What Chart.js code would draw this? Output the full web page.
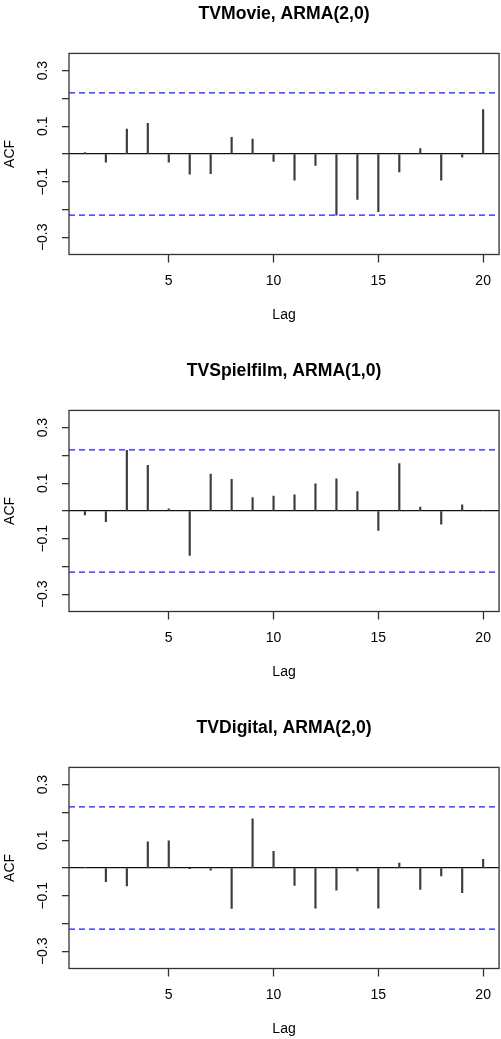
<!DOCTYPE html>
<html lang="en">
<head>
    <meta charset="UTF-8" />
    <title>ACF of residuals</title>
    <script src="https://cdn.jsdelivr.net/npm/chart.js"></script>
    <style>
        body { margin: 0; background: #fff; }
        .panel { position: absolute; left: 0; width: 501px; height: 325px; }
    </style>
</head>
<body>
    <div class="panel" style="top: 0px;"><canvas id="acf1" width="501" height="325"></canvas></div>
    <div class="panel" style="top: 357px;"><canvas id="acf2" width="501" height="325"></canvas></div>
    <div class="panel" style="top: 714px;"><canvas id="acf3" width="501" height="325"></canvas></div>

    <script>
        // lags and autocorrelations
        const lags = [1, 2, 3, 4, 5, 6, 7, 8, 9, 10, 11, 12, 13, 14, 15, 16, 17, 18, 19, 20];
        const acfTVMovie = [0.005, -0.030, 0.090, 0.110, -0.030, -0.073, -0.071, 0.060, 0.054, -0.027,
                            -0.094, -0.041, -0.220, -0.164, -0.208, -0.065, 0.019, -0.094, -0.012, 0.160];
        const acfTVSpielfilm = [-0.014, -0.039, 0.218, 0.164, 0.008, -0.160, 0.133, 0.114, 0.048, 0.054,
                                0.058, 0.098, 0.116, 0.070, -0.070, 0.171, 0.014, -0.048, 0.022, 0.002];
        const acfTVDigital = [0.001, -0.049, -0.065, 0.094, 0.098, -0.001, -0.008, -0.146, 0.177, 0.060,
                              -0.063, -0.145, -0.080, -0.011, -0.145, 0.018, -0.077, -0.029, -0.089, 0.031];
        const titles = ["TVMovie, ARMA(2,0)", "TVSpielfilm, ARMA(1,0)", "TVDigital, ARMA(2,0)"];
        const ciLevel = 0.22; // 1.96/sqrt(n)

        const xTickValues = [5, 10, 15, 20];
        const yTickValues = [-0.3, -0.2, -0.1, 0, 0.1, 0.2, 0.3];
        const yTickLabels = ["\u22120.3", "", "\u22120.1", "", "0.1", "", "0.3"];
        const xMin = 0.24, xMax = 20.76;
        const yMin = -0.362, yMax = 0.362;

        const family = "'Liberation Sans', Arial, Helvetica, sans-serif";
        const tickFont = { family: family, size: 14 };
        const boxColor = "#333";

        // R style box around the plot region
        const boxPlugin = {
            id: "box",
            afterDraw(chart) {
                const a = chart.chartArea;
                const ctx = chart.ctx;
                ctx.save();
                ctx.strokeStyle = boxColor;
                ctx.lineWidth = 1.3;
                ctx.strokeRect(a.left, a.top, a.right - a.left, a.bottom - a.top);
                ctx.restore();
            }
        };

        function makeChart(id, title, values) {
            new Chart(document.getElementById(id), {
                type: "bar",
                data: {
                    datasets: [
                        {
                            type: "bar",
                            data: lags.map((l, i) => ({ x: l, y: values[i] })),
                            backgroundColor: "#3c3c3c",
                            barThickness: 1.5,
                            order: 2
                        },
                        {
                            type: "line",
                            data: [{ x: xMin, y: ciLevel }, { x: xMax, y: ciLevel }],
                            borderColor: "#1a1aff",
                            borderWidth: 1.3,
                            borderDash: [6, 4],
                            pointRadius: 0,
                            fill: false,
                            order: 1
                        },
                        {
                            type: "line",
                            data: [{ x: xMin, y: -ciLevel }, { x: xMax, y: -ciLevel }],
                            borderColor: "#1a1aff",
                            borderWidth: 1.3,
                            borderDash: [6, 4],
                            pointRadius: 0,
                            fill: false,
                            order: 1
                        }
                    ]
                },
                options: {
                    responsive: false,
                    animation: false,
                    layout: { padding: { right: 1.5 } },
                    plugins: {
                        legend: { display: false },
                        tooltip: { enabled: false },
                        title: {
                            display: true,
                            text: title,
                            fullSize: false,
                            color: "#000",
                            font: { family: family, size: 17.6, weight: "bold" },
                            padding: { top: 4, bottom: 28.3 }
                        }
                    },
                    scales: {
                        x: {
                            type: "linear",
                            min: xMin,
                            max: xMax,
                            offset: false,
                            afterBuildTicks: s => { s.ticks = xTickValues.map(v => ({ value: v })); },
                            afterFit: s => { s.height = 70.5; },
                            border: { display: false },
                            grid: { offset: false, drawOnChartArea: false, drawTicks: true, tickLength: 8, tickColor: boxColor, tickWidth: 1.3 },
                            ticks: { font: tickFont, color: "#000", padding: 10, maxRotation: 0, autoSkip: false },
                            title: { display: true, text: "Lag", color: "#000", font: tickFont, padding: { top: 0, bottom: 1.6 } }
                        },
                        y: {
                            min: yMin,
                            max: yMax,
                            afterBuildTicks: s => { s.ticks = yTickValues.map(v => ({ value: v })); },
                            afterFit: s => { s.width = 69; },
                            border: { display: false },
                            grid: {
                                offset: false,
                                drawOnChartArea: true,
                                drawTicks: true,
                                tickLength: 7,
                                tickColor: boxColor,
                                tickWidth: 1.3,
                                lineWidth: 1.3,
                                color: c => (c.tick && c.tick.value === 0 ? "#111" : "rgba(0,0,0,0)")
                            },
                            ticks: {
                                font: tickFont,
                                color: "#000",
                                minRotation: 90,
                                maxRotation: 90,
                                crossAlign: "center",
                                padding: 5,
                                autoSkip: false,
                                callback: (v, i) => yTickLabels[i]
                            },
                            title: { display: true, text: "ACF", color: "#000", font: tickFont, padding: { top: 2, bottom: 0 } }
                        }
                    }
                },
                plugins: [boxPlugin]
            });
        }

        makeChart("acf1", titles[0], acfTVMovie);
        makeChart("acf2", titles[1], acfTVSpielfilm);
        makeChart("acf3", titles[2], acfTVDigital);
    </script>
</body>
</html>
